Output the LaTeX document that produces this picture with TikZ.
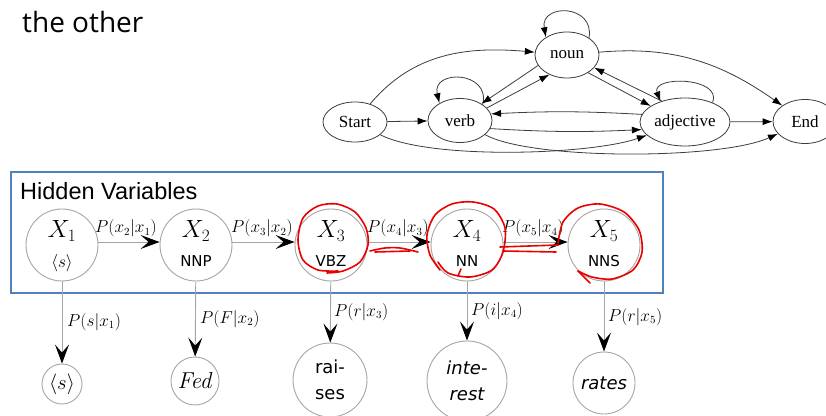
\documentclass[tikz,border=0pt]{standalone}
\usepackage{fontspec}
\usetikzlibrary{shapes.geometric,arrows.meta}
\newfontfamily\osans{Open Sans}
\newfontfamily\lsans{Liberation Sans}
\newfontfamily\lserif{Liberation Serif}
\newfontfamily\dsans{DejaVu Sans}
\newcommand\fsz[1]{\fontsize{#1}{#1}\selectfont}
\definecolor{hgray}{RGB}{165,165,165}
\definecolor{gvline}{RGB}{60,60,60}
\definecolor{boxblue}{RGB}{79,129,189}
\definecolor{redpen}{RGB}{235,0,0}
\begin{document}
\begin{tikzpicture}[x=1pt,y=1pt,
 gv/.style={ellipse, draw=gvline, line width=0.8pt, inner sep=0pt, font=\lserif\fsz{17}},
 gve/.style={draw=gvline, line width=0.8pt, -{Latex[length=10pt,width=7pt,color=black]}},
 hid/.style={circle, draw=hgray, line width=0.9pt, minimum size=72pt, inner sep=0pt},
 obs/.style={circle, draw=hgray, line width=0.9pt, inner sep=0pt},
 hmme/.style={draw=hgray, line width=0.9pt, -{Stealth[length=19pt,width=14pt,inset=8pt,color=black]}},
 plab/.style={font=\fsz{16}, inner sep=0pt},
 tag/.style={font=\dsans\fsz{15}, inner sep=0pt},
 redmark/.style={draw=redpen, line width=1.6pt, line cap=round, line join=round}
]
\useasboundingbox (0,0) rectangle (826,415);
\clip (0,0) rectangle (826,415);

% heading fragment
\node[anchor=base west, font=\osans\fsz{28}, inner sep=0pt] (title) at (22,382) {the other};

% top state graph
\node[gv, minimum width=64pt, minimum height=40pt] (start) at (355,293) {Start};
\node[gv, minimum width=64pt, minimum height=44pt] (verb) at (460,294.5) {verb};
\node[gv, minimum width=64pt, minimum height=46pt] (noun) at (567,360) {noun};
\node[gv, minimum width=90pt, minimum height=48pt] (adj) at (685,293) {adjective};
\node[gv, minimum width=64pt, minimum height=44pt] (end) at (805,293.5) {End};

\draw[gve] (start) -- (verb);
\draw[gve] (start) to[out=50,in=175] (noun);
\draw[gve] (start) .. controls (430,255) and (590,260) .. (adj);
\draw[gve] (verb) .. controls (530,255) and (720,255) .. (end);
\draw[gve] (verb.35) .. controls +(8,34) and +(-8,34) .. (verb.140);
\draw[gve] (noun.38) .. controls +(6,34) and +(-6,34) .. (noun.140);
\draw[gve] (adj.35) .. controls +(10,26) and +(-10,26) .. (adj.140);
\draw[gve] (noun.200) -- (verb.38);
\draw[gve] (verb.25) -- (noun.228);
\draw[gve] (noun.320) -- (adj.155);
\draw[gve] (adj.138) -- (noun.335);
\draw[gve] (adj.170) to[bend right=3] (verb.12);
\draw[gve] (verb.345) to[bend right=3] (adj.190);
\draw[gve] (adj) -- (end);
\draw[gve] (noun) to[out=5,in=145] (end);

% hidden variables box
\draw[draw=boxblue, line width=1.2pt] (11,243) rectangle (663,122);
\node[anchor=base west, font=\lsans\fsz{23.5}, inner sep=0pt] (hv) at (20,215) {Hidden Variables};

\node[hid] (x1) at (62,170) {};
\node[hid] (x2) at (196,170) {};
\node[hid] (x3) at (331,170) {};
\node[hid] (x4) at (467,170) {};
\node[hid] (x5) at (604,170) {};

\node[font=\fsz{24}, inner sep=0pt] (x1a) at (62,184) {$X_1$};
\node[font=\fsz{19}, inner sep=0pt] (x1b) at (62,152) {$\langle s\rangle$};
\node[font=\fsz{24}, inner sep=0pt] (x2a) at (196,184) {$X_2$};
\node[tag] (x2b) at (196,154) {NNP};
\node[font=\fsz{24}, inner sep=0pt] (x3a) at (331,184) {$X_3$};
\node[tag] (x3b) at (331,154) {VBZ};
\node[font=\fsz{24}, inner sep=0pt] (x4a) at (467,184) {$X_4$};
\node[tag] (x4b) at (467,154) {NN};
\node[font=\fsz{24}, inner sep=0pt] (x5a) at (604,184) {$X_5$};
\node[tag] (x5b) at (604,154) {NNS};

\draw[hmme] ([yshift=3pt]x1.east) -- ([yshift=3pt]x2.west);
\draw[hmme] ([yshift=3pt]x2.east) -- ([yshift=3pt]x3.west);
\draw[hmme] ([yshift=3pt]x3.east) -- ([yshift=3pt]x4.west);
\draw[hmme] ([yshift=3pt]x4.east) -- ([yshift=3pt]x5.west);

\node[plab, anchor=base west] (l12) at (95,182) {$P(x_2|x_1)$};
\node[plab, anchor=base west] (l23) at (231,182) {$P(x_3|x_2)$};
\node[plab, anchor=base west] (l34) at (367,182) {$P(x_4|x_3)$};
\node[plab, anchor=base west] (l45) at (502,182) {$P(x_5|x_4)$};

% observed words
\node[obs, minimum size=40pt, font=\fsz{21}] (o1) at (62,31) {$\langle s\rangle$};
\node[obs, minimum size=48pt, font=\fsz{23}] (o2) at (195,34) {\textit{Fed}};
\node[obs, minimum size=74pt, font=\dsans\fontsize{18}{26}\selectfont, align=center] (o3) at (330,35) {rai-\\ses};
\node[obs, minimum size=80pt, font=\dsans\itshape\fontsize{18}{26}\selectfont, align=center] (o4) at (467,34) {inte-\\rest};
\node[obs, minimum size=62pt, font=\dsans\itshape\fsz{18}] (o5) at (604,32) {rates};

\draw[hmme] (x1) -- (o1);
\draw[hmme] (x2) -- (o2);
\draw[hmme] (x3) -- (o3);
\draw[hmme] (x4) -- (o4);
\draw[hmme] (x5) -- (o5);

\node[plab, anchor=west] (e1) at (67,93) {$P(s|x_1)$};
\node[plab, anchor=west] (e2) at (200,96) {$P(F|x_2)$};
\node[plab, anchor=west] (e3) at (334,103) {$P(r|x_3)$};
\node[plab, anchor=west] (e4) at (471,104) {$P(i|x_4)$};
\node[plab, anchor=west] (e5) at (608,98) {$P(r|x_5)$};

% red pen annotations
\draw[redmark] plot[smooth] coordinates {(338,144) (318,145) (303,155) (298,175) (303,197) (318,209) (337,211) (355,203) (366,187) (368,170) (360,153) (343,144) (327,142)};
\draw[redmark] plot[smooth] coordinates {(370,164) (385,167) (400,167) (418,163)};
\draw[redmark] (375,163) -- (410,164);
\draw[redmark] plot[smooth] coordinates {(440,145) (430,160) (427,180) (435,200) (452,211) (473,213) (494,206) (505,187) (503,163) (492,145) (470,138) (448,142) (438,153)};
\draw[redmark] (461,146) -- (458,139);
\draw[redmark] (500,168) -- (558,170);
\draw[redmark] (503,164) -- (556,163);
\draw[redmark] plot[smooth] coordinates {(558,172) (563,193) (578,207) (600,211) (624,203) (639,185) (642,163) (633,145) (612,136) (592,138) (578,144)};
\draw[redmark] (578,144) -- (590,132);
\end{tikzpicture}
\end{document}
